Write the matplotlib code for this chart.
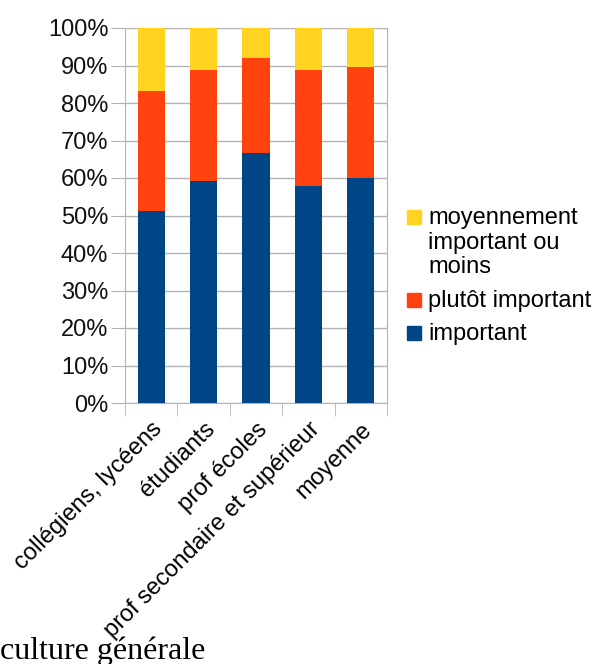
import numpy as np
import matplotlib
matplotlib.use("Agg")
import matplotlib.pyplot as plt
from matplotlib.patches import Rectangle
from matplotlib.ticker import FixedLocator, PercentFormatter

categories = ["collégiens, lycéens", "étudiants", "prof écoles", "prof secondaire et supérieur", "moyenne"]
important = [51.1, 59.3, 66.8, 58.0, 60.1]
plutot = [32.0, 29.6, 25.1, 30.9, 29.6]
moyennement = [16.9, 11.1, 8.1, 11.1, 10.3]
series_labels = ["important", "plutôt important", "moyennement\nimportant ou\nmoins"]
colors = ["#004586", "#ff420e", "#ffd320"]
grid_c = "#b3b3b3"

plt.rcParams["font.family"] = ["Liberation Sans", "DejaVu Sans"]

W, H = 601, 664
fig = plt.figure(figsize=(W / 100, H / 100), dpi=100)
ax = fig.add_axes([125 / W, 1 - 403 / H, (387 - 125) / W, (403 - 28) / H])

x = np.arange(len(categories))
bottom = np.zeros(len(categories))
for vals, lab, c in zip([important, plutot, moyennement], series_labels, colors):
    ax.bar(x, vals, width=0.52, bottom=bottom, color=c, label=lab, zorder=3)
    bottom += np.array(vals)

ax.set_xlim(-0.5, len(categories) - 0.5)
ax.set_ylim(0, 100)
ax.yaxis.set_major_locator(FixedLocator(np.arange(0, 101, 10)))
ax.yaxis.set_major_formatter(PercentFormatter(decimals=0))
ax.grid(axis="y", color=grid_c, linewidth=1, zorder=0)
ax.tick_params(axis="y", length=10, color=grid_c, labelsize=17, pad=2, labelcolor="#111111")

ax.set_xticks(x)
ax.set_xticklabels(categories, rotation=45, ha="right", rotation_mode="anchor", fontsize=17)
ax.set_xticks(np.arange(-0.5, len(categories)), minor=True)
ax.tick_params(axis="x", which="major", length=0, pad=11)
ax.tick_params(axis="x", which="minor", length=9, color=grid_c)
for s in ax.spines.values():
    s.set_color(grid_c)

# legend drawn by hand so the marker sits on the first line of a wrapped label
row_y = [333, 300, 217]   # pixel centre of the first line of each entry, top-down image coords
for lab, c, yy in zip(series_labels, colors, row_y):
    fig.patches.append(Rectangle((407 / W, 1 - (yy + 7) / H), 14 / W, 14 / H,
                                 transform=fig.transFigure, color=c))
    fig.text(428 / W, 1 - (yy - 10) / H, lab, fontsize=17, ha="left", va="top", linespacing=1.15)

fig.text(0.0, 5 / H, "culture générale", family=["Liberation Serif", "DejaVu Serif"], fontsize=23,
         ha="left", va="baseline")

fig.savefig("out.png", dpi=100)
